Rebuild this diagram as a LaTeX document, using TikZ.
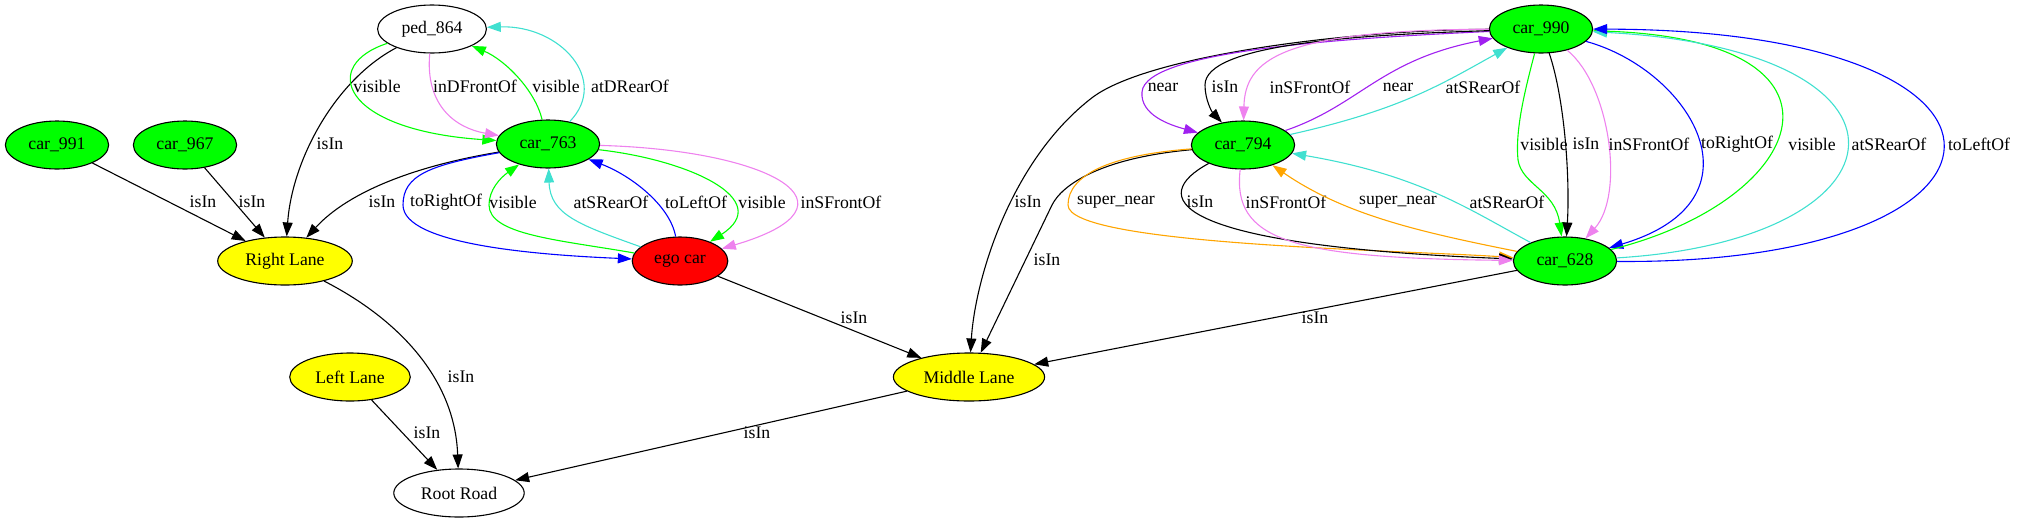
\documentclass[tikz,border=0pt]{standalone}
\usepackage{fontspec}
\setmainfont{Liberation Serif}
\usetikzlibrary{shapes.geometric, arrows.meta}
\definecolor{gvgreen}{RGB}{0,255,0}
\definecolor{gvyellow}{RGB}{255,255,0}
\definecolor{gvred}{RGB}{255,0,0}
\definecolor{gvviolet}{RGB}{238,130,238}
\definecolor{gvturq}{RGB}{64,224,208}
\definecolor{gvblue}{RGB}{0,0,255}
\definecolor{gvpurple}{RGB}{160,32,240}
\definecolor{gvorange}{RGB}{255,165,0}
\newcommand\gvfont{\fontsize{17.7}{21}\selectfont}
\tikzstyle{every node}=[font=\gvfont]
\tikzstyle{obj}=[ellipse, draw, line width=1.1pt, minimum height=48pt, inner xsep=8pt, inner ysep=2pt]
\tikzstyle{car}=[obj, fill=gvgreen]
\tikzstyle{lane}=[obj, fill=gvyellow]
\tikzstyle{plain}=[obj, fill=white]
\tikzstyle{egocar}=[obj, fill=gvred]
\tikzstyle{lbl}=[inner sep=0pt, text=black]
\tikzstyle{rel}=[-{Triangle[length=14pt,width=10pt]}, line width=1.1pt]
\tikzstyle{isin}=[rel, black]
\tikzstyle{vis}=[rel, gvgreen]
\tikzstyle{front}=[rel, gvviolet]
\tikzstyle{rear}=[rel, gvturq]
\tikzstyle{side}=[rel, gvblue]
\tikzstyle{close}=[rel, gvpurple]
\tikzstyle{supernear}=[rel, gvorange]

\begin{document}
\begin{tikzpicture}[x=1pt, y=-1pt]
\useasboundingbox (0,0) rectangle (2017,523);
% Objects
    \node[plain] (ped864) at (432,29) {ped\_864};
    \node[car] (car990) at (1541,29) {car\_990};
    \node[car] (car991) at (57,145) {car\_991};
    \node[car] (car967) at (185,145) {car\_967};
    \node[car] (car763) at (548,144) {car\_763};
    \node[car] (car794) at (1243,145) {car\_794};
    \node[egocar] (ego) at (680,261) {ego car};
    \node[car] (car628) at (1565,261) {car\_628};
% Lanes and road
    \node[lane] (rlane) at (285,261) {Right Lane};
    \node[lane] (llane) at (350,377) {Left Lane};
    \node[lane] (mlane) at (969,377) {Middle Lane};
    \node[plain] (root) at (459,493) {Root Road};
% Left group
    \draw[isin] (car991) -- (rlane) node[lbl] at (203,202) {isIn};
    \draw[isin] (car967) -- (rlane) node[lbl] at (252,202) {isIn};
    \draw[isin] (ped864) .. controls (335,80) and (292,160) .. (rlane) node[lbl] at (330,144) {isIn};
    \draw[isin] (car763) .. controls (420,165) and (350,190) .. (rlane) node[lbl] at (382,202) {isIn};
    \draw[vis] (ped864) .. controls (320,65) and (340,130) .. (car763) node[lbl] at (377,86) {visible};
    \draw[front] (ped864) .. controls (425,105) and (455,128) .. (car763) node[lbl] at (475,86) {inDFrontOf};
    \draw[vis] (car763) .. controls (535,90) and (505,60) .. (ped864) node[lbl] at (556,86) {visible};
    \draw[rear] (car763) .. controls (610,80) and (560,25) .. (ped864) node[lbl] at (630,86) {atDRearOf};
    \draw[side] (car763) .. controls (430,165) and (403,175) .. (403,205) .. controls (403,245) and (540,255) .. (ego) node[lbl] at (446,202) {toRightOf};
    \draw[vis] (ego) .. controls (560,240) and (489,235) .. (489,205) .. controls (489,190) and (500,178) .. (car763) node[lbl] at (513,202) {visible};
    \draw[rear] (ego) .. controls (580,225) and (550,215) .. (car763) node[lbl] at (611,202) {atSRearOf};
    \draw[side] (ego) .. controls (670,205) and (630,175) .. (car763) node[lbl] at (696,202) {toLeftOf};
    \draw[vis] (car763) .. controls (690,160) and (775,200) .. (ego) node[lbl] at (762,202) {visible};
    \draw[front] (car763) .. controls (770,150) and (870,205) .. (ego) node[lbl] at (841,202) {inSFrontOf};
    \draw[isin] (ego) -- (mlane) node[lbl] at (854,318) {isIn};
    \draw[isin] (rlane) .. controls (400,320) and (455,380) .. (root) node[lbl] at (461,377) {isIn};
    \draw[isin] (llane) -- (root) node[lbl] at (427,433) {isIn};
    \draw[isin] (mlane) -- (root) node[lbl] at (757,433) {isIn};
% Right group
    \draw[isin] (car990) .. controls (1350,30) and (1150,55) .. (1093,97) .. controls (1010,160) and (975,280) .. (mlane) node[lbl] at (1028,202) {isIn};
    \draw[isin] (car794) .. controls (1100,158) and (1062,185) .. (1052,205) -- (mlane) node[lbl] at (1047,260) {isIn};
    \draw[isin] (car628) -- (mlane) node[lbl] at (1315,318) {isIn};
    \draw[close] (car990) .. controls (1350,38) and (1145,50) .. (1142,92) .. controls (1140,115) and (1170,125) .. (car794) node[lbl] at (1163,87) {near};
    \draw[isin] (car990) .. controls (1350,35) and (1205,45) .. (1205,85) .. controls (1205,100) and (1212,112) .. (car794) node[lbl] at (1225,87) {isIn};
    \draw[front] (car990) .. controls (1280,30) and (1245,60) .. (car794) node[lbl] at (1310,87) {inSFrontOf};
    \draw[close] (car794) .. controls (1360,105) and (1380,60) .. (car990) node[lbl] at (1398,87) {near};
    \draw[rear] (car794) .. controls (1400,110) and (1440,85) .. (car990) node[lbl] at (1483,87) {atSRearOf};
    \draw[supernear] (car794) .. controls (1110,155) and (1068,175) .. (1068,205) .. controls (1068,245) and (1400,250) .. (car628) node[lbl] at (1116,202) {super\_near};
    \draw[isin] (car794) .. controls (1150,195) and (1160,245) .. (car628) node[lbl] at (1200,202) {isIn};
    \draw[front] (car794) .. controls (1232,240) and (1290,258) .. (car628) node[lbl] at (1286,202) {inSFrontOf};
    \draw[supernear] (car628) .. controls (1420,232) and (1345,215) .. (car794) node[lbl] at (1398,202) {super\_near};
    \draw[rear] (car628) .. controls (1470,210) and (1420,175) .. (car794) node[lbl] at (1507,202) {atSRearOf};
    \draw[vis] (car990) .. controls (1525,90) and (1515,130) .. (1518,160) .. controls (1522,185) and (1555,190) .. (car628) node[lbl] at (1544,144) {visible};
    \draw[isin] (car990) .. controls (1565,100) and (1570,180) .. (car628) node[lbl] at (1586,144) {isIn};
    \draw[front] (car990) .. controls (1610,85) and (1625,195) .. (car628) node[lbl] at (1649,144) {inSFrontOf};
    \draw[side] (car990) .. controls (1690,70) and (1770,200) .. (car628) node[lbl] at (1737,144) {toRightOf};
    \draw[vis] (car628) .. controls (1810,200) and (1870,40) .. (car990) node[lbl] at (1812,144) {visible};
    \draw[rear] (car628) .. controls (1915,240) and (1940,50) .. (car990) node[lbl] at (1889,144) {atSRearOf};
    \draw[side] (car628) .. controls (2045,265) and (2065,30) .. (car990) node[lbl] at (1979,144) {toLeftOf};
\end{tikzpicture}
\end{document}
